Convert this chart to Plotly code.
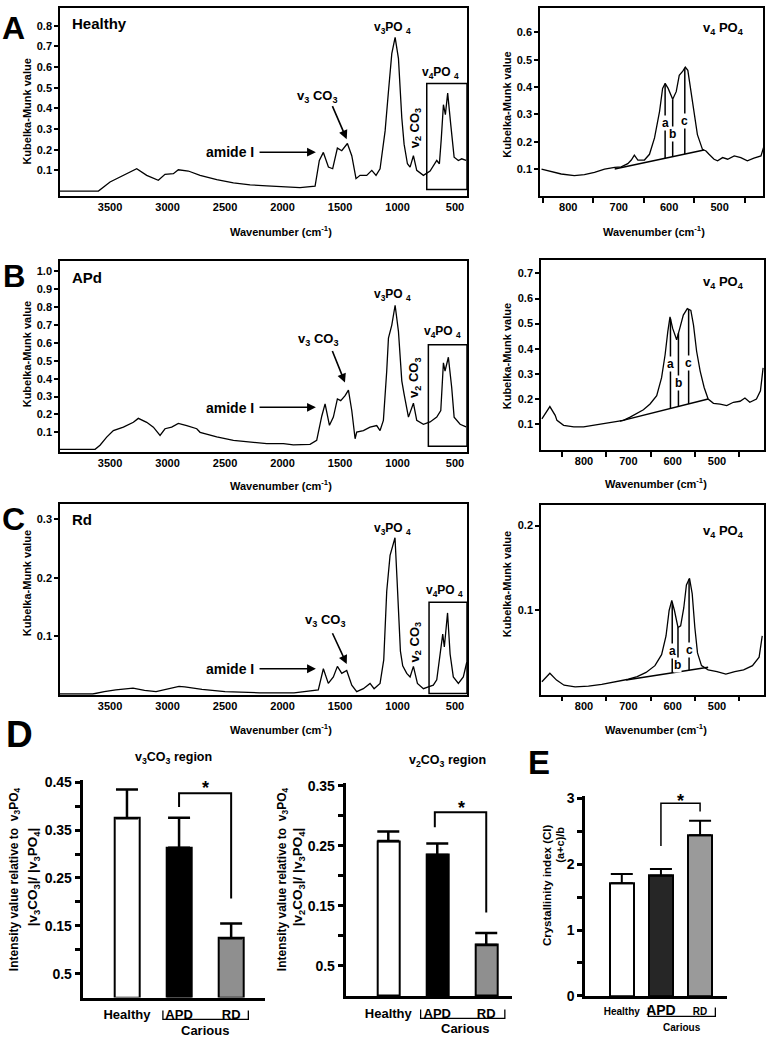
import numpy as np
import plotly.graph_objects as go

W, H = 774, 1050
FONT = "Arial, 'Liberation Sans', Helvetica, sans-serif"

# ---------------- DATA ----------------
# Panel A: Healthy full spectrum
healthy_wn = [3935, 3601, 3500, 3413, 3326, 3268, 3181, 3080, 3022, 2949, 2906, 2819, 2717, 2572, 2427,
              2282, 2137, 1992, 1848, 1717, 1680, 1645, 1601, 1564, 1523, 1485, 1436, 1398, 1361, 1326,
              1268, 1224, 1187, 1152, 1108, 1079, 1050, 1021, 992, 963, 943, 914, 891, 862, 833, 775,
              717, 659, 636, 620, 601, 584, 564, 537, 508, 471, 442, 404]
healthy_km = [0.0, 0.0, 0.044, 0.068, 0.092, 0.108, 0.076, 0.052, 0.081, 0.084, 0.103, 0.097, 0.076, 0.055,
              0.040, 0.030, 0.025, 0.020, 0.017, 0.024, 0.148, 0.187, 0.116, 0.108, 0.208, 0.195, 0.230,
              0.171, 0.060, 0.076, 0.076, 0.100, 0.076, 0.108, 0.291, 0.482, 0.665, 0.744, 0.641, 0.355,
              0.227, 0.132, 0.116, 0.171, 0.100, 0.076, 0.097, 0.148, 0.132, 0.250, 0.418, 0.370, 0.474,
              0.320, 0.164, 0.148, 0.156, 0.148]

# Panel B: APd full spectrum
apd_wn = [3935, 3630, 3587, 3529, 3471, 3384, 3297, 3254, 3181, 3123, 3065, 3022, 2964, 2906, 2833, 2746,
          2717, 2572, 2427, 2282, 2137, 1992, 1906, 1761, 1703, 1659, 1630, 1592, 1558, 1523, 1494, 1456,
          1427, 1398, 1369, 1355, 1297, 1239, 1181, 1152, 1123, 1094, 1079, 1050, 1021, 992, 963, 943,
          905, 862, 833, 775, 717, 659, 624, 601, 587, 558, 529, 508, 456, 404]
apd_km = [0.005, 0.005, 0.028, 0.073, 0.110, 0.129, 0.156, 0.178, 0.156, 0.129, 0.083, 0.120, 0.129, 0.150,
          0.137, 0.120, 0.100, 0.074, 0.055, 0.046, 0.037, 0.037, 0.030, 0.033, 0.055, 0.190, 0.259, 0.139,
          0.185, 0.287, 0.277, 0.305, 0.336, 0.222, 0.064, 0.101, 0.110, 0.129, 0.138, 0.110, 0.167, 0.443,
          0.627, 0.700, 0.811, 0.664, 0.388, 0.314, 0.185, 0.263, 0.167, 0.145, 0.158, 0.185, 0.222, 0.489,
          0.443, 0.520, 0.351, 0.185, 0.145, 0.130]

# Panel C: Rd full spectrum
rd_wn = [3935, 3650, 3550, 3450, 3300, 3200, 3100, 3000, 2900, 2850, 2700, 2500, 2200, 1900, 1790, 1689,
         1645, 1602, 1558, 1523, 1485, 1442, 1398, 1355, 1297, 1239, 1204, 1152, 1120, 1094, 1065, 1040,
         1022, 1005, 990, 975, 955, 920, 891, 862, 827, 775, 732, 689, 659, 630, 607, 593, 565, 543, 515,
         471, 428, 398]
rd_km = [0.002, 0.002, 0.006, 0.009, 0.012, 0.008, 0.006, 0.010, 0.015, 0.014, 0.010, 0.006, 0.004, 0.004,
         0.006, 0.009, 0.045, 0.020, 0.031, 0.049, 0.037, 0.042, 0.017, 0.006, 0.011, 0.020, 0.011, 0.020,
         0.060, 0.177, 0.238, 0.255, 0.268, 0.200, 0.120, 0.075, 0.050, 0.037, 0.031, 0.049, 0.020, 0.011,
         0.014, 0.017, 0.026, 0.070, 0.104, 0.082, 0.140, 0.070, 0.031, 0.020, 0.031, 0.056]

# v4 PO4 insets
healthy_v4_wn = [853, 834, 814, 788, 768, 748, 728, 708, 695, 682, 675, 669, 662, 649, 639, 629, 619, 613,
                 608, 602, 593, 586, 580, 573, 568, 563, 557, 550, 544, 534, 527, 521, 511, 504, 494, 484,
                 471, 458, 445, 432, 418, 413]
healthy_v4_km = [0.100, 0.092, 0.082, 0.076, 0.080, 0.088, 0.100, 0.106, 0.108, 0.120, 0.133, 0.151, 0.133,
                 0.133, 0.154, 0.214, 0.311, 0.395, 0.413, 0.395, 0.355, 0.383, 0.443, 0.458, 0.473, 0.461,
                 0.383, 0.287, 0.226, 0.172, 0.166, 0.154, 0.136, 0.130, 0.142, 0.136, 0.148, 0.142, 0.130,
                 0.140, 0.148, 0.178]
apd_v4_wn = [895, 877, 865, 861, 846, 823, 801, 778, 756, 733, 711, 696, 681, 666, 651, 636, 625, 617, 611,
             606, 600, 591, 584, 576, 567, 559, 553, 546, 538, 529, 520, 508, 493, 478, 463, 448, 437, 426,
             411, 402, 396]
apd_v4_km = [0.121, 0.170, 0.135, 0.115, 0.095, 0.089, 0.089, 0.095, 0.102, 0.108, 0.115, 0.128, 0.141,
             0.157, 0.180, 0.213, 0.285, 0.377, 0.468, 0.527, 0.481, 0.436, 0.481, 0.534, 0.560, 0.553,
             0.494, 0.390, 0.311, 0.246, 0.200, 0.183, 0.180, 0.174, 0.187, 0.191, 0.204, 0.187, 0.200,
             0.233, 0.324]
rd_v4_wn = [895, 877, 862, 845, 820, 790, 760, 730, 700, 680, 660, 640, 625, 615, 608, 602, 596, 588, 582,
            575, 569, 562, 556, 550, 544, 535, 520, 500, 480, 460, 440, 420, 405, 398]
rd_v4_km = [0.016, 0.026, 0.018, 0.012, 0.010, 0.011, 0.013, 0.016, 0.019, 0.022, 0.027, 0.035, 0.048,
            0.070, 0.100, 0.112, 0.100, 0.080, 0.082, 0.103, 0.130, 0.138, 0.120, 0.080, 0.050, 0.035,
            0.030, 0.028, 0.025, 0.028, 0.030, 0.035, 0.045, 0.070]

# peak-height construction (a, b, c) and baselines
healthy_abc_wn = [608, 593, 569]
apd_abc_wn = [605, 587, 564]
rd_abc_wn = [601, 588, 563]
healthy_base_wn = [708, 531]
healthy_base_km = [0.100, 0.170]
apd_base_wn = [719, 520]
apd_base_km = [0.112, 0.200]
rd_base_wn = [705, 520]
rd_base_km = [0.018, 0.033]

# bar charts
groups = ["Healthy", "APD", "RD"]
v3co3_mean = [0.375, 0.313, 0.124]
v3co3_err = [0.060, 0.063, 0.031]
v2co3_mean = [0.258, 0.235, 0.085]
v2co3_err = [0.016, 0.019, 0.020]
ci_mean = [1.71, 1.825, 2.44]
ci_err = [0.14, 0.10, 0.22]

spec_ticks = [3500, 3000, 2500, 2000, 1500, 1000, 500]
inset_major = [800, 700, 600, 500]
inset_minor = [850, 750, 650, 550, 450]


# ---------------- HELPERS ----------------
def xd(a, b):
    return [a / W, b / W]


def yd(top, bot):
    return [1 - bot / H, 1 - top / H]


def P(x, y):
    return x / W, 1 - y / H


def fnt(size, bold=True, color="black"):
    d = dict(family=FONT, size=size, color=color)
    if bold:
        d["weight"] = "bold"
    return d


fig = go.Figure()
layout = {}
annotations = []
shapes = []


def add_text(text, x, y, size=12, bold=True, angle=0, xanchor="center", yanchor="middle"):
    px, py = P(x, y)
    annotations.append(dict(text=text, x=px, y=py, xref="paper", yref="paper", showarrow=False,
                            font=fnt(size, bold), textangle=angle, xanchor=xanchor, yanchor=yanchor))


# ---------------- SPECTRA ----------------
spec_panels = [
    (1, healthy_wn, healthy_km, xd(60, 467), yd(2, 193), [3935, 396], [-0.026, 0.886],
     [0.1, 0.2, 0.3, 0.4, 0.5, 0.6, 0.7, 0.8], "full"),
    (2, healthy_v4_wn, healthy_v4_km, xd(540, 763), yd(2, 193), [856, 414], [0.0, 0.689],
     [0.1, 0.2, 0.3, 0.4, 0.5, 0.6], "inset"),
    (3, apd_wn, apd_km, xd(60, 467), yd(258, 452), [3935, 396], [-0.01, 1.061],
     [0.1, 0.2, 0.3, 0.4, 0.5, 0.6, 0.7, 0.8, 0.9, 1.0], "full"),
    (4, apd_v4_wn, apd_v4_km, xd(541, 764), yd(257, 450), [897, 394], [-0.003, 0.755],
     [0.1, 0.2, 0.3, 0.4, 0.5, 0.6, 0.7], "inset"),
    (5, rd_wn, rd_km, xd(60, 467), yd(505, 698), [3935, 396], [0.0008, 0.325],
     [0.1, 0.2, 0.3], "full"),
    (6, rd_v4_wn, rd_v4_km, xd(541, 764), yd(506, 698), [897, 394], [0.0008, 0.224],
     [0.1, 0.2], "inset"),
]

for n, wn, km, xdom, ydom, xr, yr, ytv, kind in spec_panels:
    s = "" if n == 1 else str(n)
    fig.add_trace(go.Scatter(x=wn, y=km, mode="lines", line=dict(color="black", width=1.3),
                             xaxis="x" + s, yaxis="y" + s, hoverinfo="skip", showlegend=False))
    xa = dict(domain=xdom, range=xr, anchor="y" + s, showline=True, mirror=True, linecolor="black",
              linewidth=1.6, showgrid=False, zeroline=False, tickfont=fnt(11), ticks="",
              tickmode="array", fixedrange=True)
    if kind == "full":
        xa["tickvals"] = spec_ticks
    else:
        xa["tickvals"] = inset_major
        xa["minor"] = dict(tickmode="array", tickvals=inset_minor, ticks="outside", ticklen=5,
                           tickwidth=1.5, tickcolor="black")
    ya = dict(domain=ydom, range=yr, anchor="x" + s, showline=True, mirror=True, linecolor="black",
              linewidth=1.6, showgrid=False, zeroline=False, tickfont=fnt(11), ticks="outside",
              ticklen=4, tickwidth=1.5, tickcolor="black", tickmode="array", tickvals=ytv,
              ticktext=[f"{v:.1f}" for v in ytv], fixedrange=True)
    layout["xaxis" + s] = xa
    layout["yaxis" + s] = ya

# inset boxes on full spectra
for s, x0, y0, y1 in [("", 746, 0.008, 0.52), ("3", 732, 0.022, 0.59), ("5", 726, 0.003, 0.158)]:
    shapes.append(dict(type="rect", xref="x" + s, yref="y" + s, x0=x0, x1=396, y0=y0, y1=y1,
                       line=dict(color="black", width=1.5)))

# a/b/c construction lines in insets
for s, wn, km, abc, bwn, bkm, labs in [
    ("2", healthy_v4_wn, healthy_v4_km, healthy_abc_wn, healthy_base_wn, healthy_base_km, [0.269, 0.227, 0.275]),
    ("4", apd_v4_wn, apd_v4_km, apd_abc_wn, apd_base_wn, apd_base_km, [0.34, 0.265, 0.344]),
    ("6", rd_v4_wn, rd_v4_km, rd_abc_wn, rd_base_wn, rd_base_km, [0.052, 0.036, 0.054]),
]:
    fig.add_trace(go.Scatter(x=bwn, y=bkm, mode="lines", line=dict(color="black", width=1.5),
                             xaxis="x" + s, yaxis="y" + s, hoverinfo="skip", showlegend=False))
    xs, ys = [], []
    for w in abc:
        b = float(np.interp(w, bwn[::-1], bkm[::-1]))
        t = float(np.interp(w, wn[::-1], km[::-1]))
        xs += [w, w, None]
        ys += [b, t, None]
    fig.add_trace(go.Scatter(x=xs, y=ys, mode="lines", line=dict(color="black", width=1.5),
                             xaxis="x" + s, yaxis="y" + s, hoverinfo="skip", showlegend=False))
    for lab, w, yv in zip(["a", "b", "c"], abc, labs):
        annotations.append(dict(text=lab, x=w, y=yv, xref="x" + s, yref="y" + s, showarrow=False,
                                font=fnt(12), bgcolor="white", borderpad=0))

# arrows on full spectra
for s, amide_y, co3_tail, co3_head in [("", 0.188, (1572, 0.418), (1442, 0.251)),
                                       ("3", 0.24, (1572, 0.563), (1457, 0.379)),
                                       ("5", 0.045, (1572, 0.108), (1442, 0.053))]:
    annotations.append(dict(text="", x=1710, y=amide_y, ax=2213, ay=amide_y, xref="x" + s, yref="y" + s,
                            axref="x" + s, ayref="y" + s, showarrow=True, arrowhead=2, arrowsize=1.1,
                            arrowwidth=1.6, arrowcolor="black", standoff=0))
    annotations.append(dict(text="", x=co3_head[0], y=co3_head[1], ax=co3_tail[0], ay=co3_tail[1],
                            xref="x" + s, yref="y" + s, axref="x" + s, ayref="y" + s, showarrow=True,
                            arrowhead=2, arrowsize=1.1, arrowwidth=1.6, arrowcolor="black", standoff=0))

# spectrum text labels
for title, ty, pts in [
    ("Healthy", 18, [(392, 22), (317, 92), (230, 148), (415, 124), (440, 68)]),
    ("APd", 275, [(392, 293), (318, 338), (230, 407), (415, 377), (442, 330)]),
    ("Rd", 520, [(392, 530), (325, 623), (230, 672), (415, 645), (445, 593)]),
]:
    add_text(title, 70, ty, 15, xanchor="left")
    add_text("v<sub>3</sub>PO <sub>4</sub>", *pts[0], size=12)
    add_text("v<sub>3</sub> CO<sub>3</sub>", *pts[1], size=13)
    add_text("amide I", *pts[2], size=14)
    add_text("v<sub>2</sub> CO<sub>3</sub>", *pts[3], size=13, angle=-90)
    add_text("v<sub>4</sub>PO <sub>4</sub>", *pts[4], size=12)

for y in [23, 280, 533]:
    add_text("v<sub>4</sub> PO<sub>4</sub>", 723, y, 13)

for x, y in [(27, 107), (27, 353), (27, 585), (507, 100), (507, 355), (507, 586)]:
    add_text("Kubelka-Munk value", x, y, 11, angle=-90)
for x, y in [(281, 228), (654, 228), (281, 485), (656, 483), (281, 733), (656, 733)]:
    add_text("Wavenumber (cm<sup>-1</sup>)", x, y, 11)

# ---------------- BAR CHARTS ----------------
bar_panels = [
    (7, v3co3_mean, v3co3_err, xd(82.7, 265), yd(784.3, 1005), [-0.85, 2.65], [0, 0.455], 0.47,
     [0.05, 0.15, 0.25, 0.35, 0.45], ["0.5", "0.15", "0.25", "0.35", "0.45"], [0.1, 0.2, 0.3, 0.4],
     ["white", "black", "#8f8f8f"], 3, groups, 3),
    (8, v2co3_mean, v2co3_err, xd(345.7, 511.7), yd(788, 1003.3), [-0.87, 2.52], [0, 0.354], 0.45,
     [0.05, 0.15, 0.25, 0.35], ["0.5", "0.15", "0.25", "0.35"], [0.1, 0.2, 0.3],
     ["white", "black", "#8f8f8f"], 3, groups, 3),
    (9, ci_mean, ci_err, xd(585, 726.7), yd(801, 1003.3), [-0.94, 2.68], [0, 3.03], 0.6,
     [0, 1, 2, 3], ["0", "1", "2", "3"], [0.5, 1.5, 2.5],
     ["white", "#262626", "#9a9a9a"], 2.5,
     ["<span style='font-size:10px'>" + groups[0] + "</span>", groups[1],
      "<span style='font-size:10px'>" + groups[2] + "</span>"], 0),
]

for n, mean, err, xdom, ydom, xr, yr, bw, tv, tt, mv, cols, lw, ctext, stand in bar_panels:
    s = str(n)
    fig.add_trace(go.Bar(x=[0, 1, 2], y=mean, width=bw, xaxis="x" + s, yaxis="y" + s,
                         marker=dict(color=cols, line=dict(color="black", width=2)),
                         error_y=dict(type="data", symmetric=False, array=err, arrayminus=[0, 0, 0],
                                      color="black", thickness=2.5 if n != 9 else 2, width=11),
                         hoverinfo="skip", showlegend=False))
    layout["xaxis" + s] = dict(domain=xdom, range=xr, anchor="y" + s, showline=True, linecolor="black",
                               linewidth=lw, showgrid=False, zeroline=False, ticks="", tickmode="array",
                               tickvals=[0, 1, 2], ticktext=ctext, ticklabelstandoff=stand,
                               tickfont=fnt(13 if n != 9 else 14), fixedrange=True)
    layout["yaxis" + s] = dict(domain=ydom, range=yr, anchor="x" + s, showline=True, linecolor="black",
                               linewidth=lw, showgrid=False, zeroline=False, ticks="outside", ticklen=5,
                               tickwidth=lw, tickcolor="black", tickmode="array", tickvals=tv, ticktext=tt,
                               tickfont=fnt(14),
                               minor=dict(tickmode="array", tickvals=mv, ticks="outside", ticklen=5,
                                          tickwidth=lw, tickcolor="black"), fixedrange=True)

# significance brackets
for s, x1, x2, ya, yt, yb, w in [("7", 1, 2, 0.398, 0.427, 0.207, 2),
                                 ("8", 0.95, 2, 0.281, 0.306, 0.139, 2),
                                 ("9", 1, 2, 2.275, 2.925, 2.8, 1.5)]:
    shapes.append(dict(type="path", xref="x" + s, yref="y" + s,
                       path=f"M {x1},{ya} L {x1},{yt} L {x2},{yt} L {x2},{yb}",
                       line=dict(color="black", width=w)))
# stars (pixel positions of the glyph centres)
for x, y in [(205, 793), (461, 813), (680, 806)]:
    add_text("*", x, y, 18)

# "Carious" brackets
for s, a, b, ytop, ybot, cx, cy, cs in [("7", 0.69, 2.33, 1018, 1027, 1.5, 1038, 13),
                                         ("8", 0.66, 2.38, 1017, 1026, 1.57, 1036, 13),
                                         ("9", 0.68, 2.39, 1015, 1024, 1.53, 1035, 10)]:
    y0 = 1 - ytop / H
    y1 = 1 - ybot / H
    shapes.append(dict(type="path", xref="x" + s, yref="paper",
                       path=f"M {a},{y0} L {a},{y1} L {b},{y1} L {b},{y0}",
                       line=dict(color="black", width=1.3)))
    annotations.append(dict(text="Carious", x=cx, y=1 - cy / H, xref="x" + s, yref="paper",
                            showarrow=False, font=fnt(cs), yanchor="middle"))

add_text("v<sub>3</sub>CO<sub>3</sub> region", 173, 762, 12.5)
add_text("v<sub>2</sub>CO<sub>3</sub> region", 447, 765, 12.5)
add_text("Intensity value relative to  v<sub>3</sub>PO<sub>4</sub>", 15, 885, 12, angle=-90)
add_text("|v<sub>3</sub>CO<sub>3</sub>|/ |v<sub>3</sub>PO<sub>4</sub>|", 33, 883, 13.5, angle=-90)
add_text("Intensity value relative to  v<sub>3</sub>PO<sub>4</sub>", 283, 885, 12, angle=-90)
add_text("|v<sub>2</sub>CO<sub>3</sub>|/ |v<sub>3</sub>PO<sub>4</sub>|", 298, 883, 13.5, angle=-90)
add_text("Crystallinity index (CI)", 547, 891, 11.5, angle=-90)
add_text("(a+c)/b", 560, 850, 11, angle=-90)

# panel letters
for lab, x, y, sz in [("A", 14, 22, 32), ("B", 14, 274, 31), ("C", 14, 520, 32),
                      ("D", 19, 738, 37), ("E", 539, 767, 33)]:
    add_text(lab, x, y, sz)

fig.update_layout(width=W, height=H, margin=dict(l=0, r=0, t=0, b=0), paper_bgcolor="white",
                  plot_bgcolor="white", showlegend=False, font=fnt(11), annotations=annotations,
                  shapes=shapes, bargap=0, **layout)

fig.write_html("out.html", config={"displayModeBar": False},
               post_script="document.body.style.margin='0px';")
